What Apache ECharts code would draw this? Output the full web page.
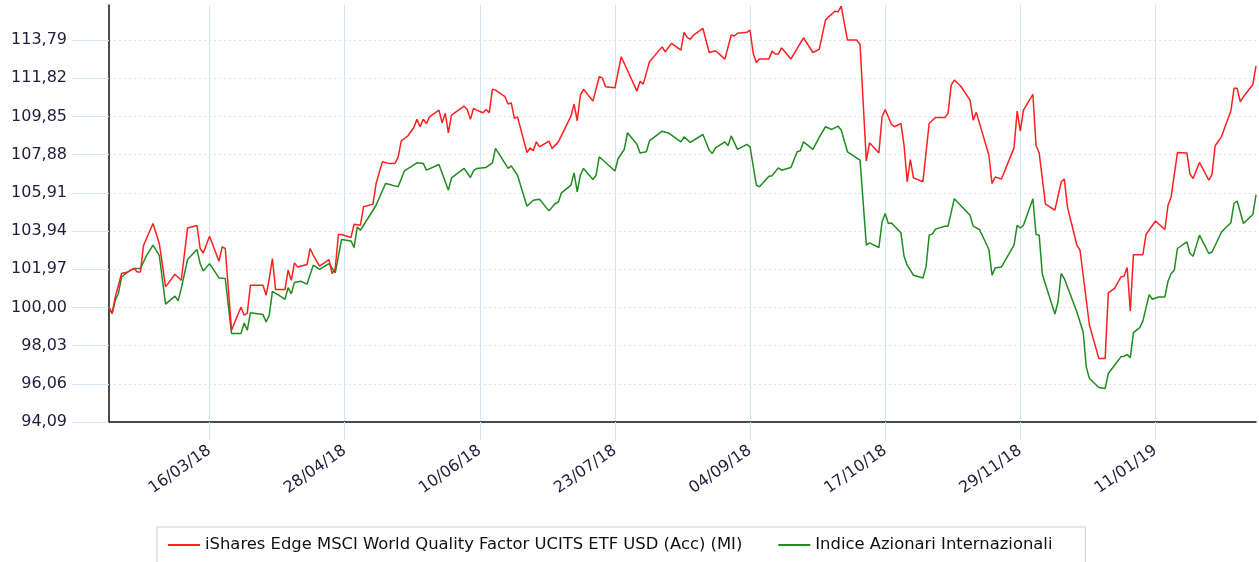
<!DOCTYPE html>
<html>
<head>
<meta charset="utf-8">
<script src="https://cdn.jsdelivr.net/npm/echarts@6/dist/echarts.min.js"></script>
<style>
  html, body { margin: 0; padding: 0; background: #fff; }
  #chart { width: 1259px; height: 562px; }
</style>
</head>
<body>
<div id="chart"></div>
<script>
// calendar axis: 12/02/2018 .. 12/02/2019, one category per day
const startDate = Date.UTC(2018, 1, 12);
const dayCount = 366;
const firstLabelDay = 32; // 16/03/18
const labelStep = 43;

// y ticks are 94,09 + k * 1,97 (centred on 100)
const baseValue = 100;
const yTickStep = 1.97;
const yMinValue = 94.09;
const yMaxValue = 115.6;

const fundName = "iShares Edge MSCI World Quality Factor UCITS ETF USD (Acc) (MI)";
const indexName = "Indice Azionari Internazionali";

// days since 12/02/2018 and the value read for that day
const fundDays = [0, 1, 2, 4, 6, 8, 9, 10, 11, 14, 16, 18, 21, 23, 25, 28, 29, 30, 32, 35, 36, 37, 39, 42, 43, 44, 45, 49, 50, 51, 52, 53, 56, 57, 58, 59, 60, 63, 64, 65, 67, 70, 71, 72, 73, 74, 77, 78, 80, 81, 84, 85, 87, 89, 91, 92, 93, 95, 97, 98, 99, 100, 101, 102, 105, 106, 107, 108, 109, 113, 114, 115, 116, 117, 119, 120, 121, 122, 123, 126, 127, 128, 129, 130, 133, 134, 135, 136, 137, 140, 141, 143, 147, 148, 149, 150, 151, 154, 156, 157, 158, 161, 163, 168, 169, 170, 172, 176, 177, 179, 182, 183, 184, 185, 186, 189, 191, 193, 196, 198, 199, 200, 203, 204, 205, 206, 207, 210, 211, 212, 213, 214, 217, 219, 221, 224, 226, 228, 229, 231, 232, 233, 235, 238, 239, 241, 242, 245, 246, 247, 249, 250, 252, 253, 254, 255, 256, 259, 261, 263, 266, 267, 268, 269, 271, 274, 275, 276, 280, 281, 282, 284, 288, 289, 290, 291, 294, 295, 296, 298, 301, 303, 304, 305, 308, 309, 312, 315, 317, 318, 320, 322, 323, 324, 325, 326, 329, 330, 333, 336, 337, 338, 340, 343, 344, 345, 347, 350, 351, 352, 354, 357, 358, 359, 360, 361, 364, 365];
const fundValues = [100.00, 99.70, 100.54, 101.75, 101.83, 102.01, 101.83, 101.83, 103.21, 104.33, 103.30, 101.06, 101.71, 101.40, 104.10, 104.23, 103.04, 102.81, 103.67, 102.38, 103.12, 103.04, 98.82, 100.02, 99.60, 99.71, 101.14, 101.14, 100.63, 101.49, 102.52, 100.92, 100.92, 101.92, 101.40, 102.30, 102.09, 102.21, 103.04, 102.69, 102.13, 102.47, 101.75, 102.01, 103.76, 103.76, 103.61, 104.29, 104.24, 105.19, 105.33, 106.39, 107.51, 107.43, 107.43, 107.74, 108.59, 108.83, 109.28, 109.70, 109.32, 109.71, 109.49, 109.83, 110.18, 109.52, 110.01, 109.01, 109.92, 110.38, 110.21, 109.70, 110.26, 110.18, 110.04, 110.21, 110.04, 111.25, 111.21, 110.87, 110.49, 110.55, 109.75, 109.83, 107.99, 108.23, 108.08, 108.54, 108.28, 108.58, 108.20, 108.54, 109.87, 110.49, 109.63, 110.95, 111.25, 110.64, 111.90, 111.84, 111.38, 111.33, 112.93, 111.16, 111.67, 111.52, 112.67, 113.44, 113.19, 113.62, 113.27, 114.19, 113.93, 113.83, 114.05, 114.39, 113.15, 113.24, 112.81, 114.05, 114.00, 114.14, 114.19, 114.31, 113.10, 112.64, 112.81, 112.81, 113.22, 113.07, 113.07, 113.39, 112.81, 113.36, 113.91, 113.15, 113.31, 114.82, 114.99, 115.28, 115.25, 115.54, 113.79, 113.79, 113.56, 107.55, 108.49, 107.97, 109.83, 110.21, 109.44, 109.32, 109.49, 108.37, 106.48, 107.63, 106.68, 106.48, 109.49, 109.80, 109.80, 110.01, 111.47, 111.73, 111.42, 110.69, 109.66, 110.06, 107.85, 106.39, 106.73, 106.62, 108.23, 110.13, 109.09, 110.18, 110.99, 108.37, 107.97, 105.33, 105.02, 106.48, 106.62, 105.19, 103.21, 102.95, 99.08, 97.36, 97.36, 100.75, 100.98, 101.57, 101.61, 102.06, 99.82, 102.72, 102.72, 103.76, 104.46, 104.02, 105.27, 105.70, 107.99, 107.97, 106.87, 106.65, 107.48, 106.56, 106.86, 108.34, 108.80, 110.13, 111.30, 111.30, 110.61, 110.87, 111.50, 112.46];

const indexDays = [0, 1, 2, 3, 4, 6, 8, 10, 12, 14, 16, 18, 21, 22, 23, 25, 28, 29, 30, 32, 35, 37, 39, 42, 43, 44, 45, 49, 50, 51, 52, 54, 56, 57, 58, 59, 61, 63, 65, 67, 70, 72, 74, 77, 78, 79, 80, 85, 88, 90, 92, 94, 98, 100, 101, 105, 108, 109, 113, 115, 116, 117, 120, 122, 123, 127, 128, 130, 133, 135, 137, 140, 142, 143, 144, 147, 148, 149, 150, 151, 154, 155, 156, 161, 162, 164, 165, 168, 169, 171, 172, 176, 178, 182, 183, 185, 189, 191, 192, 193, 196, 197, 198, 200, 203, 204, 206, 207, 210, 211, 213, 214, 217, 219, 220, 221, 224, 226, 228, 230, 232, 233, 235, 239, 241, 242, 245, 246, 247, 248, 249, 252, 253, 254, 256, 259, 260, 261, 262, 263, 266, 267, 269, 274, 275, 277, 280, 281, 282, 284, 288, 289, 290, 291, 294, 295, 296, 297, 301, 302, 303, 304, 308, 310, 311, 312, 315, 317, 318, 320, 322, 323, 324, 325, 326, 328, 329, 331, 332, 334, 336, 337, 338, 339, 340, 343, 344, 345, 347, 350, 351, 354, 355, 357, 358, 359, 361, 364, 365];
const indexValues = [100.00, 99.68, 100.37, 100.72, 101.57, 101.83, 102.01, 102.01, 102.69, 103.21, 102.69, 100.17, 100.58, 100.34, 100.98, 102.47, 102.99, 102.26, 101.88, 102.26, 101.52, 101.49, 98.65, 98.65, 99.20, 98.82, 99.73, 99.63, 99.25, 99.60, 100.83, 100.63, 100.42, 101.02, 100.70, 101.29, 101.35, 101.20, 102.18, 101.96, 102.26, 101.78, 103.50, 103.43, 103.09, 104.15, 103.98, 105.27, 106.39, 106.31, 106.22, 107.04, 107.46, 107.43, 107.08, 107.37, 106.05, 106.68, 107.17, 106.70, 107.04, 107.17, 107.22, 107.46, 108.20, 107.17, 107.30, 106.82, 105.22, 105.53, 105.58, 104.98, 105.36, 105.44, 105.91, 106.31, 106.94, 105.96, 106.82, 107.17, 106.60, 106.82, 107.77, 107.04, 107.67, 108.16, 109.01, 108.42, 107.97, 108.03, 108.59, 109.09, 109.00, 108.54, 108.80, 108.51, 108.92, 108.11, 107.94, 108.23, 108.54, 108.34, 108.85, 108.15, 108.41, 108.28, 106.31, 106.22, 106.77, 106.79, 107.20, 107.08, 107.22, 108.03, 108.08, 108.54, 108.15, 108.77, 109.32, 109.18, 109.35, 109.15, 108.03, 107.60, 103.21, 103.33, 103.09, 104.41, 104.84, 104.33, 104.36, 103.85, 102.64, 102.18, 101.66, 101.52, 102.09, 103.73, 103.78, 104.04, 104.19, 104.19, 105.61, 104.76, 104.19, 104.02, 102.99, 101.66, 102.04, 102.09, 103.21, 104.24, 104.10, 104.24, 105.61, 103.76, 103.73, 101.71, 99.66, 100.28, 101.75, 101.49, 99.76, 98.73, 96.93, 96.33, 95.87, 95.82, 96.59, 97.02, 97.45, 97.48, 97.57, 97.41, 98.70, 98.96, 99.29, 100.66, 100.42, 100.54, 100.54, 101.35, 101.75, 101.92, 103.04, 103.38, 102.78, 102.64, 103.73, 102.78, 102.86, 103.88, 104.06, 104.37, 105.36, 105.49, 104.33, 104.79, 105.80];

const pad = (n) => (n < 10 ? "0" + n : "" + n);
const categories = [];
for (let i = 0; i < dayCount; i++) {
  const d = new Date(startDate + i * 86400000);
  categories.push(pad(d.getUTCDate()) + "/" + pad(d.getUTCMonth() + 1) + "/" + pad(d.getUTCFullYear() % 100));
}

const showDay = (index) => index >= firstLabelDay && (index - firstLabelDay) % labelStep === 0;
const toPoints = (days, values) => days.map((d, i) => [d, values[i] - baseValue]);

const labelColor = "#1e1e3c";
const gridBlue = "#d6e4f4";
const font = "DejaVu Sans";

const chart = echarts.init(document.getElementById("chart"));
chart.setOption({
  animation: false,
  textStyle: { fontFamily: font },
  grid: { left: 109, right: 3, top: 5, bottom: 140, containLabel: false },
  legend: {
    left: 157,
    top: 527,
    padding: [10, 33, 10, 11],
    borderColor: "#cfcfcf",
    borderWidth: 1,
    icon: "rect",
    itemWidth: 32,
    itemHeight: 2,
    itemGap: 36,
    textStyle: { fontFamily: font, fontSize: 16.4, color: "#111" },
    data: [fundName, indexName],
  },
  xAxis: {
    type: "category",
    boundaryGap: false,
    data: categories,
    axisLine: { onZero: false, lineStyle: { color: "#111", width: 1.5 } },
    axisTick: {
      interval: (i) => showDay(i),
      length: 18,
      lineStyle: { color: gridBlue },
    },
    axisLabel: {
      interval: (i) => showDay(i),
      rotate: 35,
      margin: 27,
      fontSize: 16,
      color: labelColor,
      fontFamily: font,
    },
    splitLine: {
      show: true,
      interval: (i) => showDay(i),
      lineStyle: { color: gridBlue, width: 1 },
    },
  },
  yAxis: {
    type: "value",
    min: yMinValue - baseValue,
    max: yMaxValue - baseValue,
    interval: yTickStep,
    axisLine: { show: true, onZero: false, lineStyle: { color: "#111", width: 1.5 } },
    axisTick: { show: true, length: 37, lineStyle: { color: gridBlue } },
    axisLabel: {
      margin: 42,
      fontSize: 16,
      color: labelColor,
      fontFamily: font,
      showMaxLabel: false,
      formatter: (v) => (v + baseValue).toFixed(2).replace(".", ","),
    },
    splitLine: {
      show: true,
      showMaxLine: false,
      lineStyle: { color: gridBlue, type: [2, 3], width: 1 },
    },
  },
  series: [
    {
      name: fundName,
      type: "line",
      data: toPoints(fundDays, fundValues),
      showSymbol: false,
      lineStyle: { color: "#ff1f1f", width: 1.5 },
      itemStyle: { color: "#ff1f1f" },
      emphasis: { disabled: true },
      z: 3,
    },
    {
      name: indexName,
      type: "line",
      data: toPoints(indexDays, indexValues),
      showSymbol: false,
      lineStyle: { color: "#1f8c1f", width: 1.5 },
      itemStyle: { color: "#1f8c1f" },
      emphasis: { disabled: true },
      z: 2,
    },
  ],
});
</script>
</body>
</html>
